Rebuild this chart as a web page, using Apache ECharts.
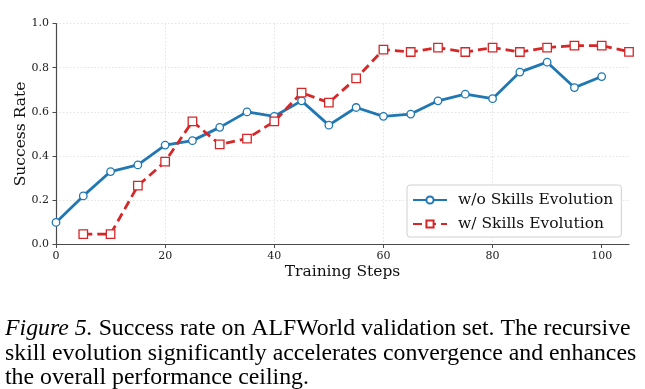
<!DOCTYPE html>
<html><head><meta charset="utf-8">
<script src="https://cdn.jsdelivr.net/npm/echarts@6/dist/echarts.min.js"></script>
<style>html,body{margin:0;padding:0;background:#fff}#c{width:645px;height:389px}</style>
</head><body><div id="c"></div>
<script>
const steps = [0,5,10,15,20,25,30,35,40,45,50,55,60,65,70,75,80,85,90,95,100,105];
const woEvolution = [0.10,0.22,0.33,0.36,0.45,0.47,0.53,0.60,0.58,0.65,0.54,0.62,0.58,0.59,0.65,0.68,0.66,0.78,0.825,0.71,0.76,null];
const wEvolution = [null,0.047,0.047,0.266,0.375,0.557,0.453,0.479,0.557,0.687,0.642,0.752,0.882,0.871,0.891,0.871,0.891,0.871,0.891,0.90,0.90,0.872];
const xTicks = [0,20,40,60,80,100];
const yTicks = [0,0.2,0.4,0.6,0.8,1.0];
const seriesNames = ['w/o Skills Evolution','w/ Skills Evolution'];
const captionLines = [
  '{i|Figure 5.} Success rate on ALFWorld validation set. The recursive',
  'skill evolution significantly accelerates convergence and enhances',
  'the overall performance ceiling.'
];

const chart = echarts.init(document.getElementById('c'), null, {renderer:'canvas'});
const serif = 'DejaVu Serif';
const axisCol = '#4a4a4a';
const gridLine = {show:true, lineStyle:{color:'#dcdcdc', width:0.8, type:[1.5,2]}};
function pairs(vals){ return steps.map((s,i)=>[s, vals[i]]).filter(p=>p[1]!==null); }

chart.setOption({
  animation:false,
  grid:{left:56, right:16, top:23.5, bottom:144.5, containLabel:false, outerBoundsMode:'none'},
  xAxis:{type:'value', min:0, max:105, interval:20,
    name:'Training Steps', nameLocation:'middle', nameGap:19, nameMoveOverlap:false,
    nameTextStyle:{fontFamily:serif, fontSize:15.5, color:'#111'},
    axisLine:{show:true, onZero:false, lineStyle:{color:axisCol, width:1.2}},
    axisTick:{show:true, length:3.5, lineStyle:{color:axisCol, width:1}, customValues:xTicks},
    axisLabel:{fontFamily:serif, fontSize:11, color:'#222', margin:6, customValues:xTicks},
    splitLine:Object.assign({showMaxLine:false, showMinLine:false}, gridLine)},
  yAxis:{type:'value', min:0, max:1, interval:0.2,
    name:'Success Rate', nameLocation:'middle', nameGap:27, nameMoveOverlap:false,
    nameTextStyle:{fontFamily:serif, fontSize:15.5, color:'#111'},
    axisLine:{show:true, lineStyle:{color:axisCol, width:1.2}},
    axisTick:{show:true, length:3.5, lineStyle:{color:axisCol, width:1}},
    axisLabel:{fontFamily:serif, fontSize:11, color:'#222', margin:7, formatter:v=>v.toFixed(1)},
    splitLine:Object.assign({showMinLine:false}, gridLine)},
  legend:{orient:'vertical', left:407, top:185, width:205,
    padding:[7,8,5,5], itemGap:8, itemWidth:34, itemHeight:9,
    backgroundColor:'rgba(255,255,255,0.85)', borderColor:'#d0d0d0', borderWidth:1, borderRadius:3,
    textStyle:{fontFamily:serif, fontSize:15.5, color:'#111', padding:[0,0,0,6]},
    data:seriesNames},
  series:[
    {name:seriesNames[0], type:'line', data:pairs(woEvolution), symbol:'circle', symbolSize:7.5,
     lineStyle:{color:'#1f77b4', width:2.8},
     itemStyle:{color:'#fff', borderColor:'#1f77b4', borderWidth:1.3}, z:3},
    {name:seriesNames[1], type:'line', data:pairs(wEvolution), symbol:'rect', symbolSize:8.5,
     lineStyle:{color:'#d62728', width:2.8, type:[9,5]},
     itemStyle:{color:'#fff', borderColor:'#d62728', borderWidth:1.3}, z:4}
  ],
  graphic:captionLines.map((t,i)=>({type:'text', left:5, top:317+i*24.5, silent:true,
    style:{text:t, fontFamily:'Liberation Serif', fontSize:23.8, fill:'#000',
      rich:{i:{fontFamily:'Liberation Serif', fontSize:23.8, fontStyle:'italic', fill:'#000'}}}}))
});
</script></body></html>
